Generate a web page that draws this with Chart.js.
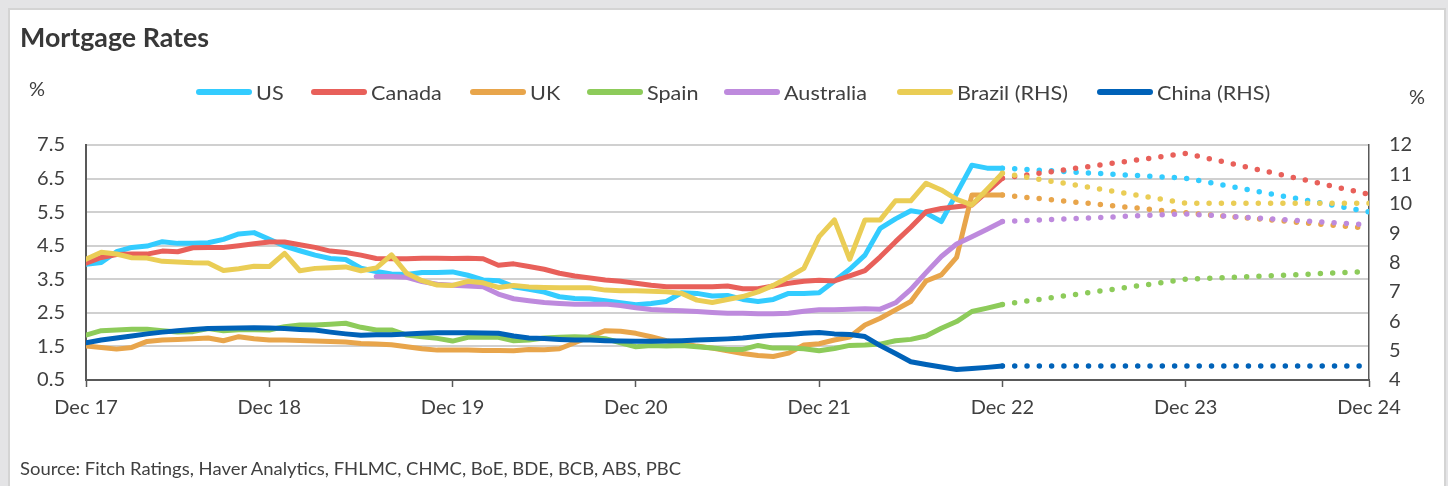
<!DOCTYPE html>
<html>
<head>
<meta charset="utf-8">
<script src="https://cdn.jsdelivr.net/npm/chart.js@4.4.1/dist/chart.umd.min.js"></script>
<style>
html, body { margin: 0; padding: 0; }
body { width: 1448px; height: 486px; background: #e4e4e6; font-family: Lato, "Open Sans", sans-serif; color: #404040; overflow: hidden; position: relative; }
#panel { position: absolute; left: 8px; top: 8px; width: 1438px; height: 500px; background: #fff; border: 2px solid #d4d4d4; box-sizing: border-box; }
#wrap { position: absolute; left: 0; top: 0; width: 1448px; height: 486px; }
#title { position: absolute; left: 20px; top: 21px; line-height: 32px; font-size: 26px; font-weight: 700; color: #383838; transform: scaleX(1.03); transform-origin: left center; white-space: nowrap; }
.pct { position: absolute; font-size: 20px; line-height: 22px; }
.lg { position: absolute; top: 80px; height: 24px; display: flex; align-items: center; font-size: 20px; white-space: nowrap; }
.lg .sw { width: 56px; height: 6px; border-radius: 3px; margin-right: 4px; }
.lg .tx { display: inline-block; transform: scaleX(1.08); transform-origin: left center; }
#source { position: absolute; left: 20px; top: 457px; font-size: 18px; line-height: 22px; transform: scaleX(1.025); transform-origin: left center; white-space: nowrap; }
</style>
</head>
<body>
<div id="panel"></div>
<div id="wrap"><canvas id="mortgageChart"></canvas></div>
<div id="title">Mortgage Rates</div>
<div class="pct" style="left:29px; top:77px;">%</div>
<div class="pct" style="left:1409px; top:85px;">%</div>
<div id="source">Source: Fitch Ratings, Haver Analytics, FHLMC, CHMC, BoE, BDE, BCB, ABS, PBC</div>
<script>
// monthly data Dec 17 .. Dec 22 (index 0..60), forecasts at Dec 22 / Dec 23 / Dec 24
const xTickYears = ['Dec 17', 'Dec 18', 'Dec 19', 'Dec 20', 'Dec 21', 'Dec 22', 'Dec 23', 'Dec 24'];
const forecastX = [60, 72, 84];

const usRate = [3.95, 4.0, 4.32, 4.45, 4.49, 4.62, 4.57, 4.57, 4.59, 4.69, 4.85, 4.89,
  4.69, 4.49, 4.35, 4.22, 4.12, 4.09, 3.83, 3.73, 3.66, 3.64, 3.7, 3.7,
  3.72, 3.62, 3.48, 3.46, 3.28, 3.2, 3.12, 2.98, 2.93, 2.91, 2.86, 2.8,
  2.74, 2.78, 2.84, 3.1, 3.08, 3.0, 3.02, 2.9, 2.84, 2.9, 3.08, 3.08,
  3.1, 3.45, 3.8, 4.22, 5.02, 5.3, 5.54, 5.47, 5.22, 6.06, 6.9, 6.81, 6.81];
const canadaRate = [3.98, 4.15, 4.24, 4.25, 4.25, 4.34, 4.32, 4.44, 4.45, 4.45, 4.5, 4.56,
  4.61, 4.61, 4.53, 4.45, 4.34, 4.3, 4.22, 4.12, 4.11, 4.11, 4.13, 4.13,
  4.12, 4.13, 4.11, 3.92, 3.96, 3.88, 3.8, 3.68, 3.6, 3.54, 3.48, 3.44,
  3.38, 3.32, 3.28, 3.28, 3.28, 3.28, 3.3, 3.22, 3.22, 3.3, 3.38, 3.44,
  3.47, 3.45, 3.6, 3.76, 4.17, 4.62, 5.05, 5.51, 5.61, 5.66, 5.71, 6.11, 6.51];
const ukRate = [1.51, 1.47, 1.42, 1.47, 1.65, 1.69, 1.71, 1.73, 1.75, 1.67, 1.79, 1.73,
  1.69, 1.69, 1.68, 1.66, 1.65, 1.63, 1.59, 1.57, 1.55, 1.49, 1.43, 1.39,
  1.39, 1.39, 1.38, 1.38, 1.37, 1.41, 1.4, 1.43, 1.61, 1.79, 1.97, 1.95,
  1.89, 1.79, 1.67, 1.59, 1.51, 1.45, 1.37, 1.29, 1.23, 1.2, 1.3, 1.54,
  1.58, 1.69, 1.78, 2.14, 2.34, 2.59, 2.84, 3.45, 3.63, 4.15, 6.01, 6.01, 6.01];
const spainRate = [1.84, 1.97, 1.99, 2.01, 2.01, 1.97, 1.93, 1.94, 2.03, 1.97, 2.0, 2.0,
  1.99, 2.09, 2.14, 2.14, 2.16, 2.19, 2.07, 1.99, 1.99, 1.84, 1.79, 1.74,
  1.66, 1.77, 1.77, 1.77, 1.67, 1.69, 1.75, 1.77, 1.79, 1.77, 1.73, 1.61,
  1.49, 1.53, 1.51, 1.53, 1.49, 1.45, 1.41, 1.41, 1.53, 1.45, 1.45, 1.43,
  1.37, 1.44, 1.53, 1.54, 1.57, 1.67, 1.71, 1.81, 2.04, 2.24, 2.54, 2.64, 2.75];
// Australia starts Jul 19 (index 19)
const australiaStart = 19;
const australiaRate = [3.58, 3.58, 3.56, 3.43, 3.35,
  3.32, 3.3, 3.28, 3.06, 2.92, 2.86, 2.81, 2.78, 2.76, 2.76, 2.76, 2.72,
  2.65, 2.6, 2.58, 2.56, 2.54, 2.51, 2.49, 2.49, 2.47, 2.47, 2.49, 2.55,
  2.59, 2.59, 2.61, 2.62, 2.61, 2.8, 3.2, 3.7, 4.18, 4.55, 4.77, 4.99, 5.22];
const brazilRate = [8.11, 8.35, 8.29, 8.16, 8.15, 8.04, 8.02, 7.99, 7.98, 7.73, 7.79, 7.87,
  7.86, 8.31, 7.72, 7.8, 7.82, 7.85, 7.72, 7.81, 8.26, 7.63, 7.38, 7.23,
  7.22, 7.36, 7.31, 7.15, 7.22, 7.17, 7.15, 7.14, 7.14, 7.14, 7.06, 7.04,
  7.04, 7.02, 7.0, 6.95, 6.72, 6.64, 6.74, 6.84, 7.0, 7.22, 7.5, 7.8,
  8.88, 9.45, 8.11, 9.45, 9.45, 10.1, 10.1, 10.7, 10.47, 10.15, 9.96, 10.49, 11.04];
const chinaRate = [5.27, 5.36, 5.43, 5.5, 5.57, 5.63, 5.68, 5.72, 5.75, 5.76, 5.77, 5.78,
  5.77, 5.75, 5.72, 5.7, 5.63, 5.57, 5.52, 5.54, 5.54, 5.57, 5.59, 5.61,
  5.61, 5.61, 5.6, 5.59, 5.5, 5.43, 5.41, 5.38, 5.36, 5.36, 5.34, 5.33,
  5.32, 5.32, 5.33, 5.34, 5.36, 5.38, 5.4, 5.43, 5.48, 5.52, 5.55, 5.59,
  5.62, 5.57, 5.55, 5.48, 5.17, 4.9, 4.62, 4.53, 4.44, 4.36, 4.39, 4.43, 4.48];

const usFc = [6.81, 6.51, 5.51];
const canadaFc = [6.51, 7.25, 6.03];
const ukFc = [6.01, 5.48, 5.02];
const spainFc = [2.75, 3.5, 3.73];
const australiaFc = [5.22, 5.45, 5.12];
const brazilFc = [11.04, 10.02, 10.02];
const chinaFc = [4.48, 4.48, 4.48];

const series = [
  { name: 'US', data: usRate, fc: usFc, color: '#33CCFF', axis: 'y', start: 0, order: 7, lx: 196 },
  { name: 'Canada', data: canadaRate, fc: canadaFc, color: '#E8605A', axis: 'y', start: 0, order: 6, lx: 311 },
  { name: 'UK', data: ukRate, fc: ukFc, color: '#E8A54B', axis: 'y', start: 0, order: 5, lx: 470 },
  { name: 'Spain', data: spainRate, fc: spainFc, color: '#8DCB5A', axis: 'y', start: 0, order: 4, lx: 587 },
  { name: 'Australia', data: australiaRate, fc: australiaFc, color: '#BE8ADD', axis: 'y', start: australiaStart, order: 3, lx: 724 },
  { name: 'Brazil (RHS)', data: brazilRate, fc: brazilFc, color: '#EACD55', axis: 'y2', start: 0, order: 2, lx: 897 },
  { name: 'China (RHS)', data: chinaRate, fc: chinaFc, color: '#0062B8', axis: 'y2', start: 0, order: 1, lx: 1097 }
];

const datasets = [];
series.forEach(s => {
  datasets.push({
    label: s.name,
    data: s.data.map((v, k) => ({ x: s.start + k, y: v })),
    yAxisID: s.axis,
    borderColor: s.color,
    borderWidth: 5,
    borderCapStyle: 'round',
    borderJoinStyle: 'round',
    pointRadius: 0,
    tension: 0,
    order: s.order
  });
  datasets.push({
    label: s.name + ' forecast',
    data: s.fc.map((v, k) => ({ x: forecastX[k], y: v })),
    yAxisID: s.axis,
    borderColor: s.color,
    borderWidth: 5.5,
    borderCapStyle: 'round',
    borderDash: [0, 12.3],
    pointRadius: 0,
    tension: 0,
    order: s.order + 10
  });
});

// legend
series.forEach(s => {
  const item = document.createElement('div');
  item.className = 'lg';
  item.style.left = s.lx + 'px';
  item.innerHTML = '<span class="sw" style="background:' + s.color + '"></span><span class="tx">' + s.name + '</span>';
  document.body.appendChild(item);
});

Chart.defaults.font.family = 'Lato, "Open Sans", sans-serif';
Chart.defaults.color = '#404040';

const ctx = document.getElementById('mortgageChart');
new Chart(ctx, {
  type: 'line',
  data: { datasets: datasets },
  options: {
    responsive: true,
    maintainAspectRatio: false,
    animation: false,
    layout: { padding: { left: 36, right: 29, top: 145, bottom: 66 } },
    plugins: { legend: { display: false }, tooltip: { enabled: false } },
    scales: {
      x: {
        type: 'linear',
        min: 0,
        max: 84,
        afterFit: sc => { sc.height = 40; },
        ticks: {
          stepSize: 12,
          padding: 9,
          maxRotation: 0,
          font: { size: 20 },
          callback: v => xTickYears[v / 12]
        },
        grid: { drawOnChartArea: false, drawTicks: true, tickLength: 7, tickColor: '#595959', tickWidth: 1.5 },
        border: { display: true, color: '#595959', width: 2 }
      },
      y: {
        position: 'left',
        min: 0.5,
        max: 7.5,
        afterFit: sc => { sc.width = 50; },
        ticks: { stepSize: 1, padding: 21, font: { size: 20 } },
        grid: { color: '#d0d0d0', lineWidth: 2, drawTicks: false },
        border: { display: true, color: '#595959', width: 2 }
      },
      y2: {
        position: 'right',
        min: 4,
        max: 12,
        afterFit: sc => { sc.width = 50; },
        ticks: { stepSize: 1, padding: 20, font: { size: 20 } },
        grid: { drawOnChartArea: false, drawTicks: false },
        border: { display: true, color: '#595959', width: 1.5 }
      }
    }
  }
});
</script>
</body>
</html>
